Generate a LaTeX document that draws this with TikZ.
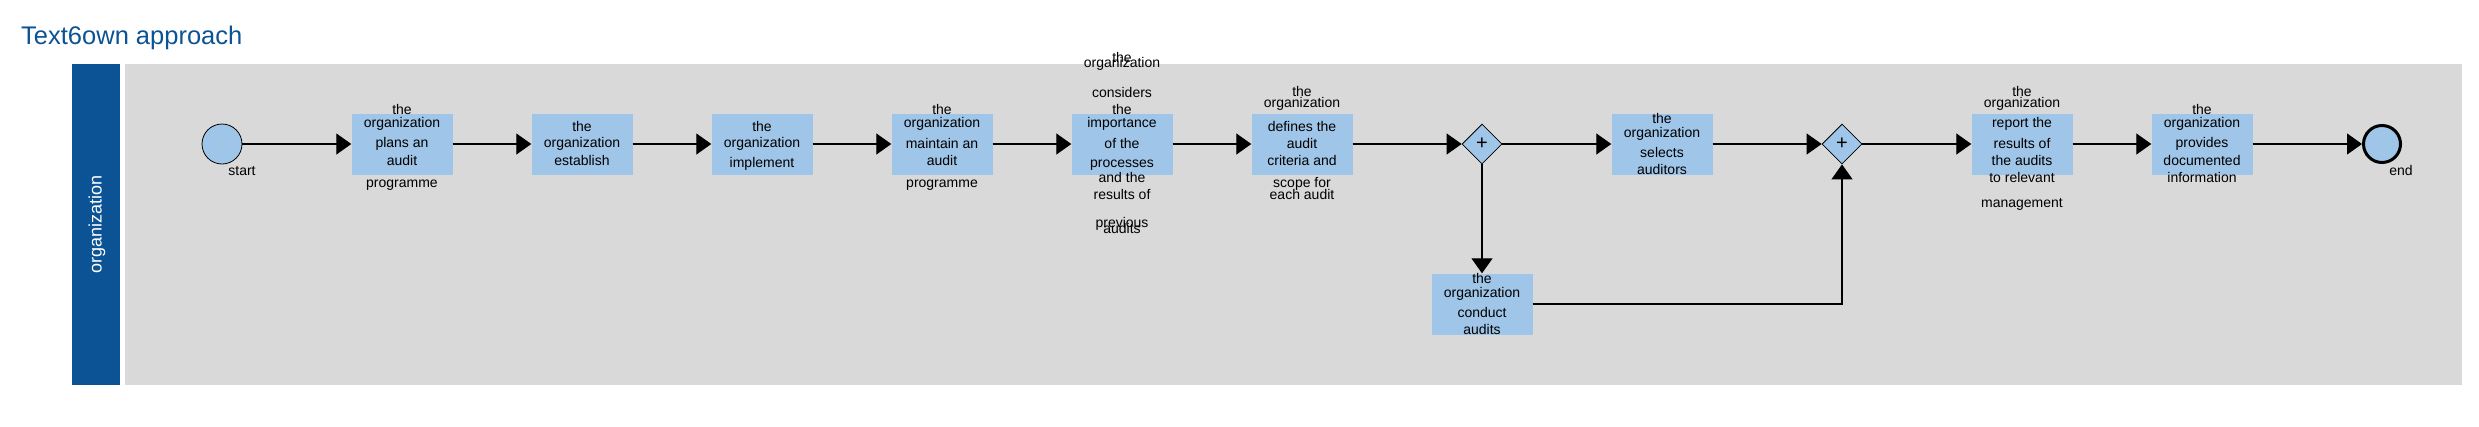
\documentclass[tikz,border=0pt]{standalone}
\usepackage{fontspec}
\setmainfont{Liberation Sans}
\usetikzlibrary{arrows.meta,shapes.geometric}

\tikzset{
  task/.style={fill=boxblue,minimum width=101pt,minimum height=61pt,inner sep=0pt},
  txt/.style={font=\fontsize{14}{16}\selectfont,inner sep=0pt,text height=10pt,text depth=3pt},
  flow/.style={line width=1.2pt,-{Triangle[length=15pt,width=21pt]}},
  gate/.style={diamond,draw,line width=0.8pt,fill=boxblue,minimum width=40pt,minimum height=40pt,inner sep=0pt,font=\fontsize{20}{20}\selectfont},
  event/.style={circle,draw,fill=boxblue,minimum size=40pt,inner sep=0pt},
}
\newcommand{\tasklines}[2]{\foreach \y/\t in {#2}{\node[txt] at (#1.center |- 0,\y) {\t};}}

\begin{document}
\begin{tikzpicture}[x=1pt,y=-1pt]
                \definecolor{titleblue}{HTML}{0B5394}
                \definecolor{boxblue}{HTML}{9FC5E8}
                \definecolor{poolgray}{HTML}{D9D9D9}
                \useasboundingbox (0,0) rectangle (2479,426);
                \node[anchor=base west,inner sep=0pt,text=titleblue,font=\fontsize{25.5}{28}\selectfont] (title) at (21,44) {Text6own approach};
                \fill[titleblue] (72,64) rectangle (120,385);
                \fill[poolgray] (125,64) rectangle (2462,385);
                \node[rotate=90,text=white,font=\fontsize{18}{20}\selectfont] (lane) at (97,224) {organization};
                \node[event,line width=0.8pt] (startev) at (222,144) {};
                \node[txt] (startlbl) at ([shift={(20,28)}]startev.center) {start};
                \node[task] (plan) at (402,144) {};
                \node[task] (establish) at (582,144) {};
                \node[task] (implement) at (762,144) {};
                \node[task] (maintain) at (942,144) {};
                \node[task] (consider) at (1122,144) {};
                \node[task] (define) at (1302,144) {};
                \node[gate] (gatea) at (1482,144) {+};
                \node[task] (select) at (1662,144) {};
                \node[task] (conduct) at (1482,304) {};
                \node[gate] (gateb) at (1842,144) {+};
                \node[task] (report) at (2022,144) {};
                \node[task] (provide) at (2202,144) {};
                \node[event,line width=3pt,minimum size=37pt] (endev) at (2382,144) {};
                \node[txt] (endlbl) at ([shift={(19,28)}]endev.center) {end};
                \draw[flow] (startev) -- (plan);
                \draw[flow] (plan) -- (establish);
                \draw[flow] (establish) -- (implement);
                \draw[flow] (implement) -- (maintain);
                \draw[flow] (maintain) -- (consider);
                \draw[flow] (consider) -- (define);
                \draw[flow] (define) -- (gatea);
                \draw[flow] (gatea) -- (select);
                \draw[flow] (gatea.south) -- (conduct.north);
                \draw[flow] (select) -- (gateb);
                \draw[flow] (conduct.east) -| (gateb.south);
                \draw[flow] (gateb) -- (report);
                \draw[flow] (report) -- (provide);
                \draw[flow] (provide) -- (endev);
                \tasklines{plan}{111/the,124/organization,144/plans an,162/audit,184/programme}
                \tasklines{establish}{128/the,144/organization,162/establish}
                \tasklines{implement}{128/the,144/organization,164/implement}
                \tasklines{maintain}{111/the,124/organization,145/maintain an,162/audit,184/programme}
                \tasklines{consider}{59/the,64/organization,94/considers,111/the,124/importance,145/of the,164/processes,179/and the,196/results of,224/previous,230/audits}
                \tasklines{define}{93/the,104/organization,128/defines the,145/audit,162/criteria and,184/scope for,196/each audit}
                \tasklines{select}{120/the,134/organization,154/selects,171/auditors}
                \tasklines{conduct}{280/the,294/organization,314/conduct,331/audits}
                \tasklines{report}{93/the,104/organization,124/report the,145/results of,162/the audits,179/to relevant,204/management}
                \tasklines{provide}{111/the,124/organization,144/provides,162/documented,179/information}
\end{tikzpicture}
\end{document}
